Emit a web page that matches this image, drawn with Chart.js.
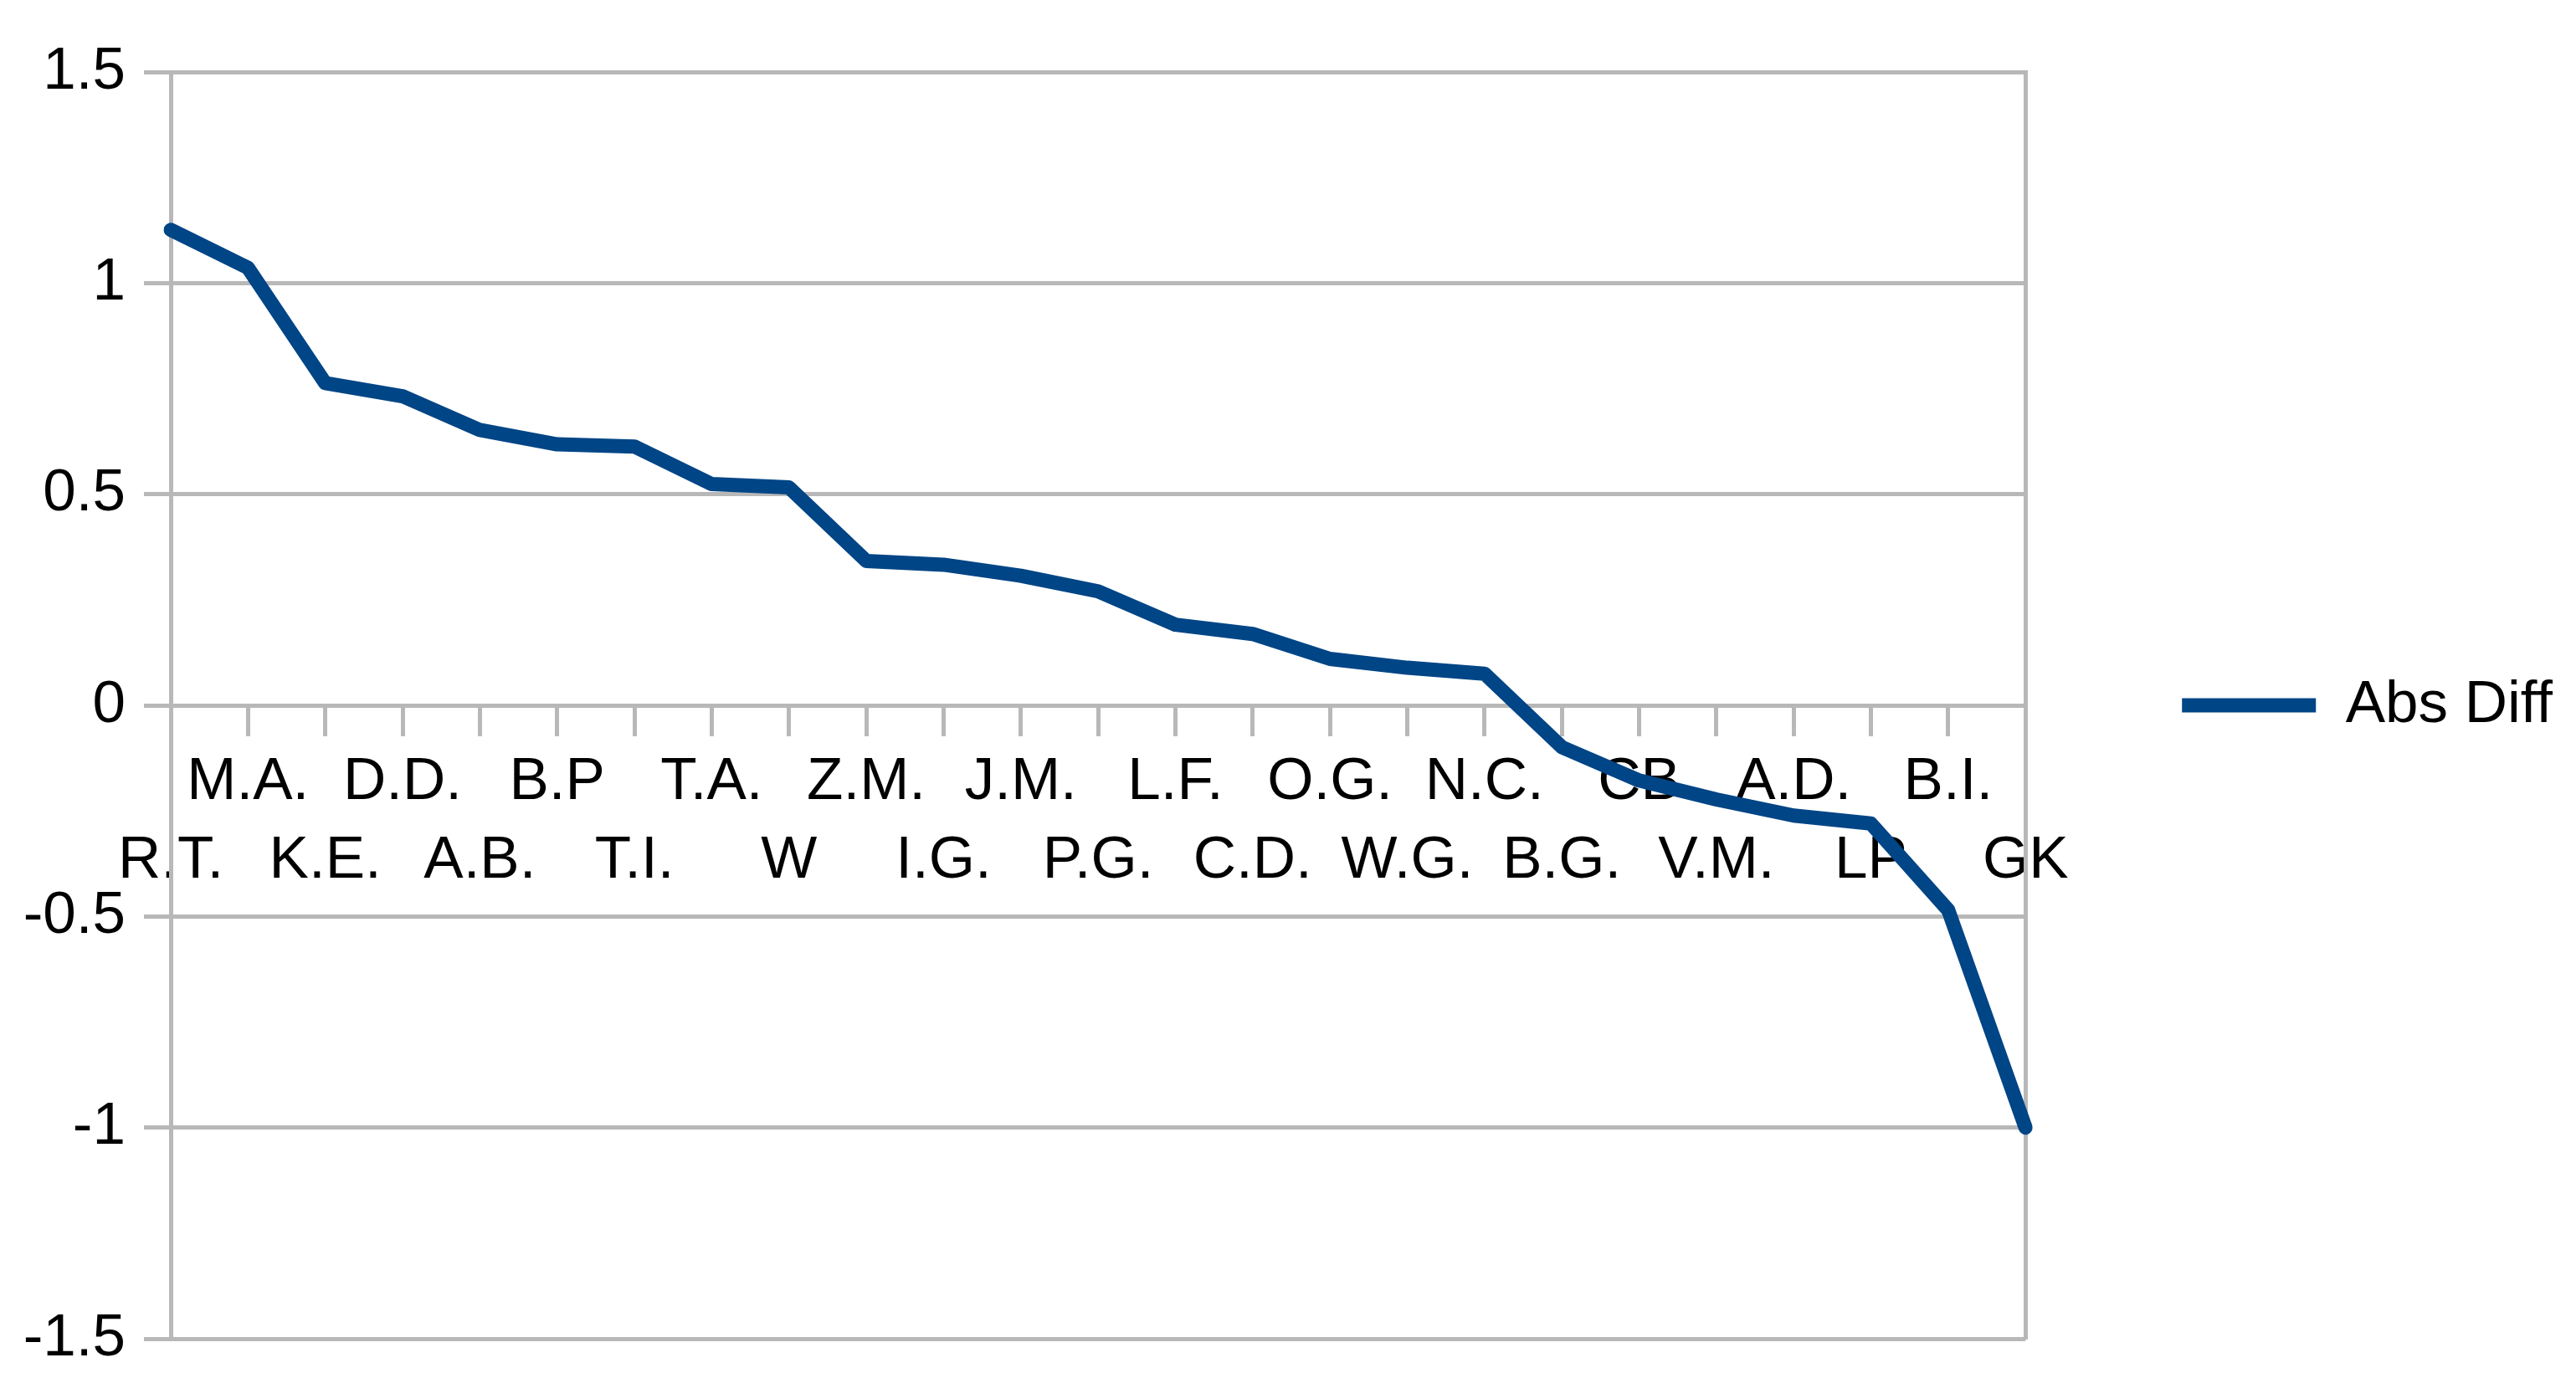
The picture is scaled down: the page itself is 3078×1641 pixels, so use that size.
<!DOCTYPE html>
<html>
<head>
<meta charset="utf-8">
<script src="https://cdn.jsdelivr.net/npm/chart.js@4/dist/chart.umd.min.js"></script>
<style>
  html, body { margin: 0; padding: 0; background: #ffffff; }
  #wrap { width: 3078px; height: 1641px; position: relative; }
</style>
</head>
<body>
<div id="wrap"><canvas id="c"></canvas></div>
<script>
const categories = ["R.T.", "M.A.", "K.E.", "D.D.", "A.B.", "B.P", "T.I.", "T.A.", "W", "Z.M.",
  "I.G.", "J.M.", "P.G.", "L.F.", "C.D.", "O.G.", "W.G.", "N.C.", "B.G.", "CB",
  "V.M.", "A.D.", "LP", "B.I.", "GK"];
const absDiff = [1.126, 1.036, 0.763, 0.732, 0.652, 0.618, 0.613, 0.524, 0.516, 0.342,
  0.333, 0.307, 0.270, 0.191, 0.169, 0.110, 0.089, 0.075, -0.099, -0.178,
  -0.223, -0.261, -0.280, -0.485, -1.0];
const seriesName = "Abs Diff";
const yTickValues = [-1.5, -1, -0.5, 0, 0.5, 1, 1.5];
const yTickLabels = ["-1.5", "-1", "-0.5", "0", "0.5", "1", "1.5"];

const FONT = "'Liberation Sans', Arial, sans-serif";
const FONT_SIZE = 71;
const GRID = '#b8b8b8';

new Chart(document.getElementById('c'), {
  type: 'line',
  data: {
    labels: categories,
    datasets: [{
      label: seriesName,
      data: absDiff,
      borderColor: '#004586',
      backgroundColor: '#004586',
      borderWidth: 17,
      pointRadius: 0,
      pointHoverRadius: 0,
      pointStyle: 'line',
      tension: 0,
      borderJoinStyle: 'round',
      borderCapStyle: 'round'
    }]
  },
  options: {
    responsive: true,
    maintainAspectRatio: false,
    devicePixelRatio: 1,
    animation: false,
    layout: { padding: { top: 86, bottom: 41, left: 0, right: 18 } },
    plugins: {
      tooltip: { enabled: false },
      legend: {
        position: 'right',
        labels: {
          usePointStyle: true,
          pointStyle: 'line',
          pointStyleWidth: 160,
          color: '#000000',
          padding: 10,
          font: { family: FONT, size: FONT_SIZE }
        }
      }
    },
    scales: {
      x: {
        type: 'category',
        position: { y: 0 },
        offset: false,
        grid: {
          display: true,
          drawOnChartArea: false,
          drawTicks: true,
          tickLength: 34,
          color: GRID,
          lineWidth: 5
        },
        border: { display: true, color: GRID, width: 5 },
        ticks: {
          autoSkip: false,
          maxRotation: 0,
          minRotation: 0,
          padding: 12,
          color: '#000000',
          font: { family: FONT, size: FONT_SIZE, lineHeight: 1.32 },
          callback: function (value, index) {
            const lab = categories[index];
            return index % 2 === 0 ? ['', lab] : [lab, ''];
          }
        }
      },
      y: {
        position: 'left',
        min: -1.5,
        max: 1.5,
        afterBuildTicks: function (scale) {
          scale.ticks = yTickValues.map(v => ({ value: v }));
        },
        afterFit: function (scale) {
          scale.width = 204;
          scale.paddingTop = 0;
          scale.paddingBottom = 0;
        },
        grid: {
          color: GRID,
          lineWidth: 5,
          drawTicks: true,
          tickLength: 32
        },
        border: { display: true, color: GRID, width: 5 },
        ticks: {
          padding: 22,
          color: '#000000',
          font: { family: FONT, size: FONT_SIZE },
          callback: function (value) {
            const i = yTickValues.indexOf(value);
            return i >= 0 ? yTickLabels[i] : '';
          }
        }
      },
      y2: {
        position: 'right',
        min: -1.5,
        max: 1.5,
        afterFit: function (scale) {
          scale.width = 177;
          scale.paddingTop = 0;
          scale.paddingBottom = 0;
        },
        grid: { display: false },
        border: { display: true, color: GRID, width: 5 },
        ticks: { display: false }
      }
    }
  }
});
</script>
</body>
</html>
